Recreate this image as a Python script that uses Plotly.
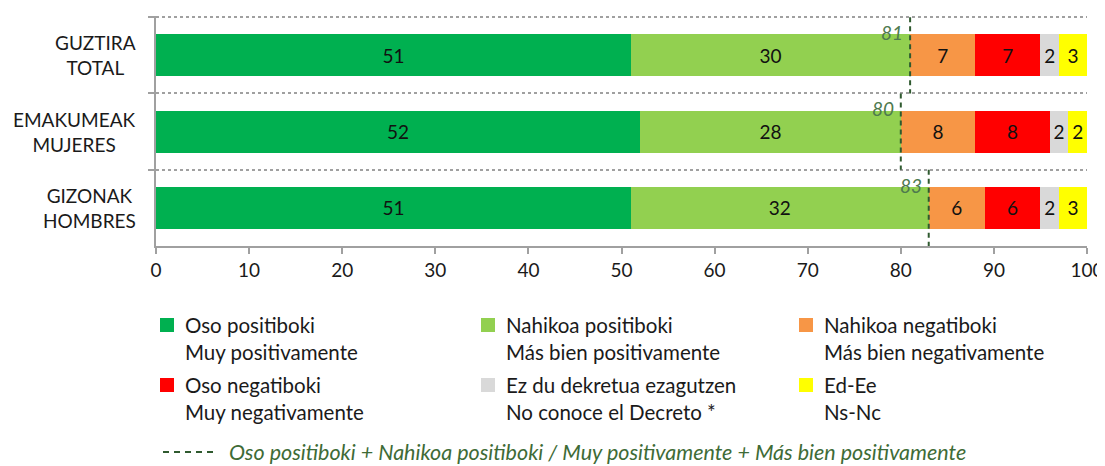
import plotly.graph_objects as go

categories = ["GUZTIRA<br>TOTAL", "EMAKUMEAK<br>MUJERES", "GIZONAK<br>HOMBRES"]
series_eu = ["Oso positiboki", "Nahikoa positiboki", "Nahikoa negatiboki",
             "Oso negatiboki", "Ez du dekretua ezagutzen", "Ed-Ee"]
series_es = ["Muy positivamente", "Más bien positivamente", "Más bien negativamente",
             "Muy negativamente", "No conoce el Decreto *", "Ns-Nc"]
oso_pos = [51, 52, 51]
nahikoa_pos = [30, 28, 32]
nahikoa_neg = [7, 8, 6]
oso_neg = [7, 8, 6]
ez_du = [2, 2, 2]
ed_ee = [3, 2, 3]
x_ticks = [0, 10, 20, 30, 40, 50, 60, 70, 80, 90, 100]
dash_caption = "Oso positiboki + Nahikoa positiboki / Muy positivamente + Más bien positivamente"

values = [oso_pos, nahikoa_pos, nahikoa_neg, oso_neg, ez_du, ed_ee]
colors = ["#00B050", "#92D050", "#F79646", "#FF0000", "#D9D9D9", "#FFFF00"]

FONT = "Lato, Liberation Sans, Arial"
TXT = "#1a1a1a"
OFF = 8  # page body margin
W, H = 1105, 466 - OFF
L, T = 156 - OFF, 16 - OFF
R = W - (1087 - OFF)
B = H - (246 - OFF)
PW, PH = W - L - R, H - T - B


def px(x):
    return (x - OFF - L) / PW


def py(y):
    return (H - B - (y - OFF)) / PH


fig = go.Figure()
for name, vals, col in zip(series_eu, values, colors):
    fig.add_trace(go.Bar(
        y=categories, x=vals, name=name, orientation="h",
        marker=dict(color=col, line=dict(width=0)),
        width=0.55, text=[str(v) for v in vals], textposition="inside",
        insidetextanchor="middle", textangle=0,
        textfont=dict(family=FONT, size=19, color="#111111"),
        showlegend=False, hoverinfo="x+name",
    ))

shapes = []
annotations = []

# category labels (centered lines)
for cat in categories:
    annotations.append(dict(xref="paper", yref="y", x=px(138), y=cat, text=cat,
                            showarrow=False, xanchor="right", yanchor="middle", align="center",
                            font=dict(family=FONT, size=19, color=TXT)))

# dashed totals
for i, (a, b) in enumerate(zip(oso_pos, nahikoa_pos)):
    tot = a + b
    shapes.append(dict(type="line", xref="x", yref="y", x0=tot, x1=tot,
                       y0=i - 0.5, y1=i + 0.5,
                       line=dict(color="#2F5A2F", width=2, dash="5px,4px")))
    annotations.append(dict(xref="x", yref="y", x=tot, y=i - 0.5, text=f"<i>{tot}</i>",
                            showarrow=False, xanchor="right", yanchor="top", xshift=-5, yshift=-2,
                            font=dict(family=FONT, size=19, color="#4E7A4E")))

# legend
col_sq = [160, 481, 799]
rows_y = [325, 385]
LF = 20.5
for k in range(6):
    r, c = divmod(k, 3)
    x0 = col_sq[c]
    yc = rows_y[r]
    shapes.append(dict(type="rect", xref="paper", yref="paper",
                       x0=px(x0), x1=px(x0 + 14), y0=py(yc - 7), y1=py(yc + 7),
                       fillcolor=colors[k], line=dict(width=0)))
    annotations.append(dict(xref="paper", yref="paper", x=px(x0 + 23), y=py(yc),
                            text=series_eu[k], showarrow=False, xanchor="left", yanchor="middle",
                            font=dict(family=FONT, size=LF, color=TXT)))
    annotations.append(dict(xref="paper", yref="paper", x=px(x0 + 23), y=py(yc + 27),
                            text=series_es[k], showarrow=False, xanchor="left", yanchor="middle",
                            font=dict(family=FONT, size=LF, color=TXT)))

shapes.append(dict(type="line", xref="paper", yref="paper", x0=px(163), x1=px(216),
                   y0=py(452), y1=py(452), line=dict(color="#2F5A2F", width=2, dash="6px,5px")))
annotations.append(dict(xref="paper", yref="paper", x=px(227), y=py(452),
                        text=f"<i>{dash_caption}</i>", showarrow=False, xanchor="left",
                        yanchor="middle", font=dict(family=FONT, size=21.5, color="#3E6B36")))

fig.update_layout(
    width=W, height=H, barmode="stack", bargap=0.45,
    margin=dict(l=L, r=R, t=T, b=B, autoexpand=False),
    plot_bgcolor="white", paper_bgcolor="white",
    shapes=shapes, annotations=annotations,
    uniformtext=dict(mode="show", minsize=10),
    xaxis=dict(range=[0, 100], tickvals=x_ticks, showgrid=False, zeroline=False,
               automargin=False, ticklabeloverflow="allow",
               showline=True, linecolor="#A0A0A0", linewidth=2,
               ticks="outside", ticklen=6, tickwidth=2, tickcolor="#A0A0A0",
               tickfont=dict(family=FONT, size=19, color=TXT)),
    yaxis=dict(range=[2.5, -0.515], autorange=False, tickson="boundaries", showgrid=True,
               automargin=False, showticklabels=False,
               gridcolor="#A0A0A0", griddash="dot", gridwidth=2,
               showline=True, linecolor="#A0A0A0", linewidth=2,
               ticks="outside", ticklen=6, tickwidth=2, tickcolor="#A0A0A0"),
)

fig.write_html("out.html")
